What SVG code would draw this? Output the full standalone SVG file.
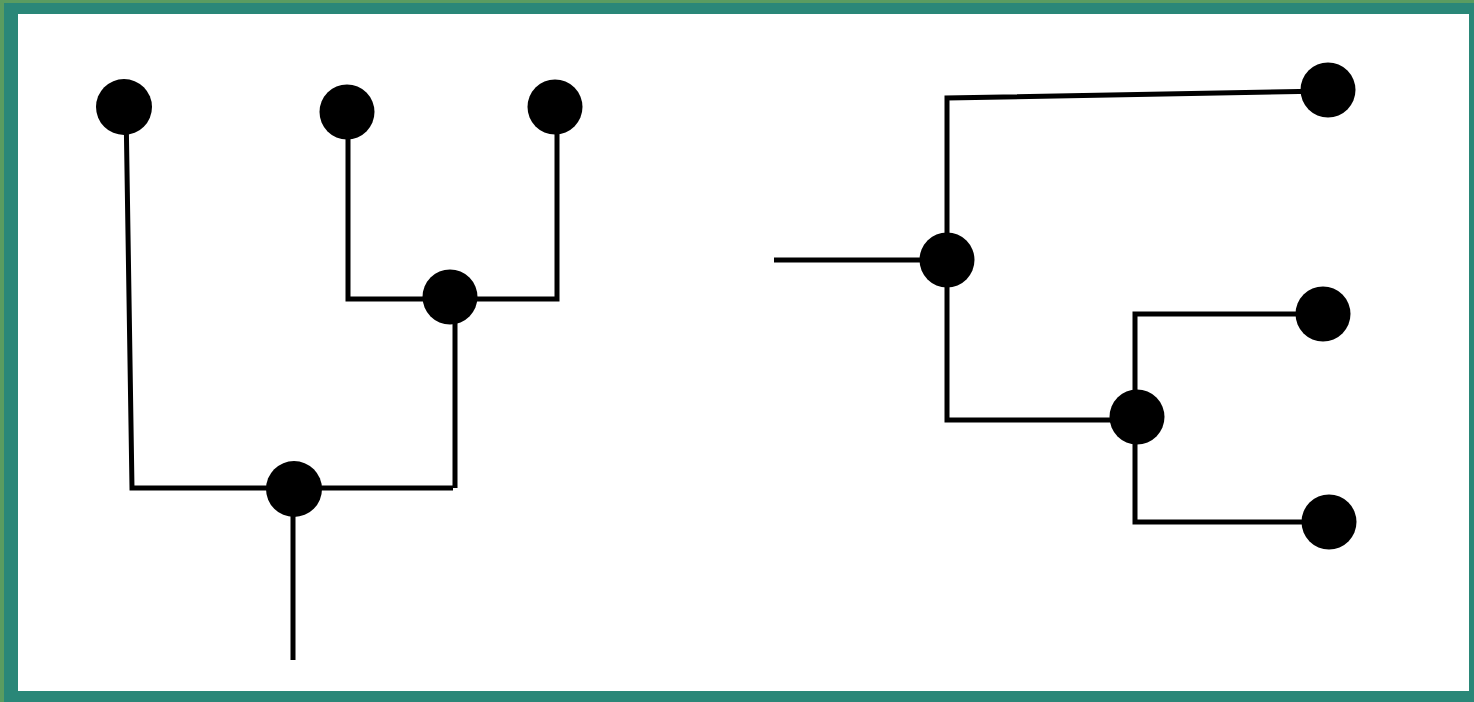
<svg xmlns="http://www.w3.org/2000/svg" width="1474" height="702" viewBox="0 0 1474 702">
<style>
.edge{fill:none;stroke:#000;stroke-width:5;stroke-linecap:butt;stroke-linejoin:miter}
.node{fill:#000}
</style>
<rect x="0" y="0" width="1474" height="702" fill="#5a9c60"/>
<rect x="4" y="3" width="1470" height="699" fill="#2a8778"/>
<rect x="18" y="14" width="1451" height="677" fill="#ffffff"/>
<g id="connectors">
<path class="edge" d="M126 107 L132 488 L453 488"/>
<path class="edge" d="M455 298 L455 488"/>
<path class="edge" d="M293 489 L293 660"/>
<path class="edge" d="M348 112 L348 299 L557 299 L557 107"/>
<path class="edge" d="M774 260 L947 260"/>
<path class="edge" d="M1328 91 L947 98 L947 260"/>
<path class="edge" d="M947 260 L947 420 L1137 420"/>
<path class="edge" d="M1323 314 L1135 314 L1135 522 L1329 522"/>
</g>
<g id="n1"><circle class="node" cx="124" cy="107" r="28"/></g>
<g id="n2"><circle class="node" cx="347" cy="112" r="27.5"/></g>
<g id="n3"><circle class="node" cx="555" cy="107" r="27.5"/></g>
<g id="n4"><circle class="node" cx="450" cy="297" r="27.5"/></g>
<g id="n5"><circle class="node" cx="294" cy="489" r="28"/></g>
<g id="n6"><circle class="node" cx="947" cy="260" r="27.5"/></g>
<g id="n7"><circle class="node" cx="1328" cy="90" r="27.5"/></g>
<g id="n8"><circle class="node" cx="1137" cy="417" r="27.5"/></g>
<g id="n9"><circle class="node" cx="1323" cy="314" r="27.5"/></g>
<g id="n10"><circle class="node" cx="1329" cy="522" r="27.5"/></g>
</svg>
